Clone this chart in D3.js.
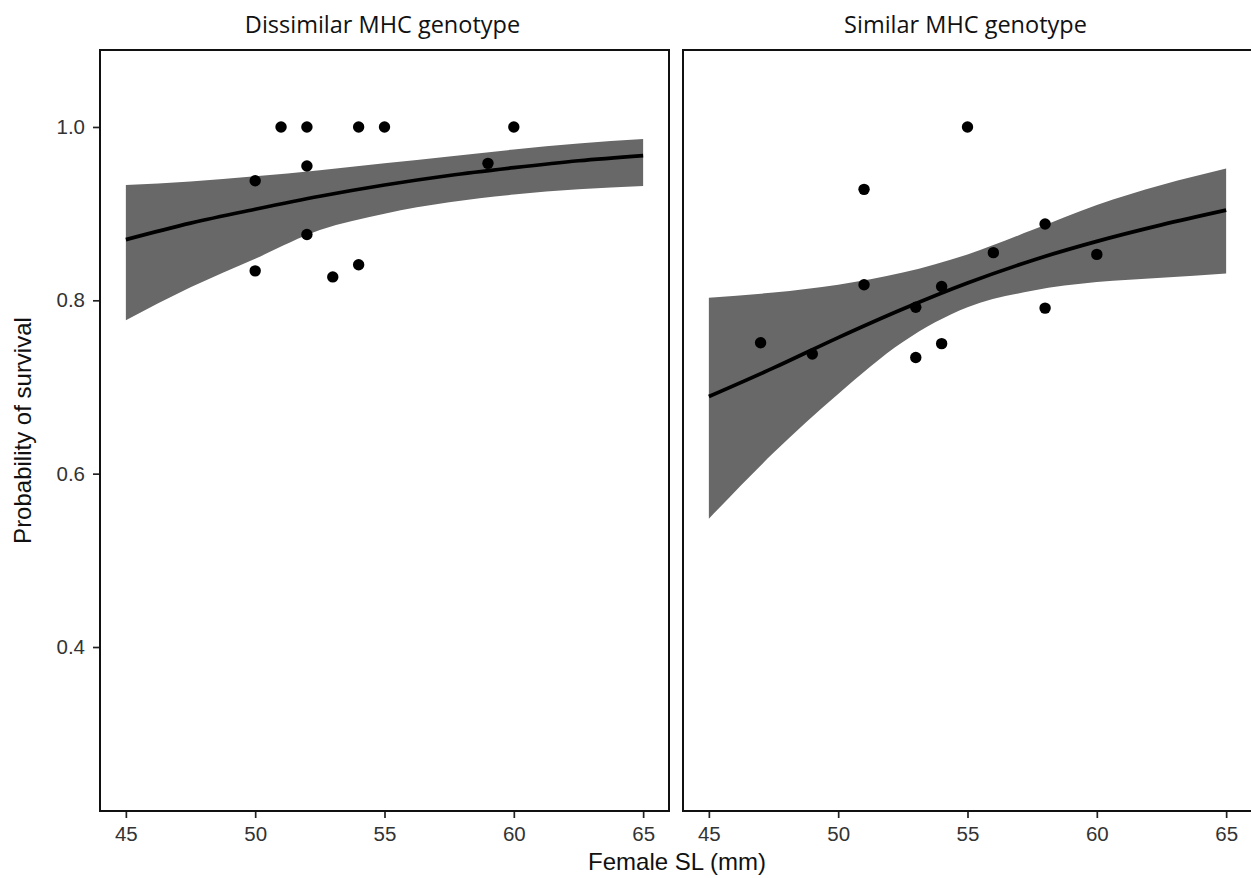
<!DOCTYPE html>
<html>
<head>
<meta charset="utf-8">
<script src="https://cdn.jsdelivr.net/npm/d3@7"></script>
<style>
  body { margin: 0; background: #fff; }
  svg { display: block; }
</style>
</head>
<body>
<script>
// valori
const panelTitles = ["Dissimilar MHC genotype", "Similar MHC genotype"];
const xTicks = [45, 50, 55, 60, 65];
const yTicks = [0.4, 0.6, 0.8, 1.0];

// punti osservati
const dissSL = [51, 52, 54, 55, 60, 50, 52, 59, 52, 50, 53, 54];
const dissSurv = [1.0, 1.0, 1.0, 1.0, 1.0, 0.938, 0.955, 0.958, 0.876, 0.834, 0.827, 0.841];
const simSL = [47, 49, 51, 51, 53, 53, 54, 54, 55, 56, 58, 58, 60];
const simSurv = [0.751, 0.738, 0.928, 0.818, 0.792, 0.734, 0.816, 0.750, 1.0, 0.855, 0.888, 0.791, 0.853];

// curva stimata e intervallo
const fitSL = [45, 47.5, 50, 52.5, 55, 57.5, 60, 62.5, 65];
const dissFit = [0.870, 0.889, 0.905, 0.920, 0.933, 0.944, 0.953, 0.961, 0.967];
const dissLower = [0.777, 0.815, 0.848, 0.881, 0.900, 0.913, 0.922, 0.928, 0.932];
const dissUpper = [0.933, 0.937, 0.943, 0.950, 0.958, 0.966, 0.974, 0.981, 0.986];
const simFit = [0.689, 0.722, 0.757, 0.790, 0.820, 0.846, 0.868, 0.887, 0.904];
const simLower = [0.548, 0.624, 0.692, 0.752, 0.792, 0.811, 0.821, 0.826, 0.831];
const simUpper = [0.803, 0.809, 0.818, 0.832, 0.853, 0.881, 0.910, 0.933, 0.952];

var width = 1251, height = 878;
var plotTop = 50, plotBottom = 811;
var panelW = 569, gap = 14, left0 = 100;

var svg = d3.select("body").append("svg")
  .attr("width", width)
  .attr("height", height);

var y = d3.scaleLinear().domain([0.2108, 1.0888]).range([plotBottom, plotTop]);

var panels = [
  { title: panelTitles[0], xs: dissSL, ys: dissSurv, fit: dissFit, lo: dissLower, hi: dissUpper },
  { title: panelTitles[1], xs: simSL, ys: simSurv, fit: simFit, lo: simLower, hi: simUpper }
];

panels.forEach(function (p, i) {
  var x0 = left0 + i * (panelW + gap);
  var x = d3.scaleLinear().domain([44, 66]).range([x0, x0 + panelW]);

  var g = svg.append("g");

  // banda di confidenza
  var band = fitSL.map((s, k) => ({ s: s, lo: p.lo[k], hi: p.hi[k] }));
  g.append("path")
    .datum(band)
    .attr("fill", "#686868")
    .attr("d", d3.area()
      .x(d => x(d.s))
      .y0(d => y(d.lo))
      .y1(d => y(d.hi))
      .curve(d3.curveMonotoneX));

  // curva
  var line = fitSL.map((s, k) => ({ s: s, v: p.fit[k] }));
  g.append("path")
    .datum(line)
    .attr("fill", "none")
    .attr("stroke", "#000")
    .attr("stroke-width", 3.7)
    .attr("d", d3.line()
      .x(d => x(d.s))
      .y(d => y(d.v))
      .curve(d3.curveMonotoneX));

  // punti
  g.selectAll("circle")
    .data(p.xs.map((s, k) => ({ s: s, v: p.ys[k] })))
    .enter().append("circle")
    .attr("cx", d => x(d.s))
    .attr("cy", d => y(d.v))
    .attr("r", 5.7)
    .attr("fill", "#000");

  // cornice (il secondo pannello esce dal bordo destro come nell'originale)
  g.append("rect")
    .attr("x", x0)
    .attr("y", plotTop)
    .attr("width", i === 0 ? panelW : panelW + 4)
    .attr("height", plotBottom - plotTop)
    .attr("fill", "none")
    .attr("stroke", "#111")
    .attr("stroke-width", 2);

  // asse x
  var xAxis = g.append("g")
    .attr("transform", `translate(0,${plotBottom + 1})`)
    .call(d3.axisBottom(x).tickValues(xTicks).tickSize(6).tickPadding(8));
  xAxis.select(".domain").remove();
  xAxis.selectAll(".tick line").attr("stroke", "#222").attr("stroke-width", 1.7);
  xAxis.selectAll("text")
    .attr("font-family", "Liberation Sans, Arial, sans-serif")
    .attr("font-size", 20.5)
    .attr("fill", "#333");

  // asse y solo nel primo pannello
  if (i === 0) {
    var yAxis = g.append("g")
      .attr("transform", `translate(${x0 - 1},0)`)
      .call(d3.axisLeft(y).tickValues(yTicks).tickSize(6).tickPadding(8).tickFormat(d3.format(".1f")));
    yAxis.select(".domain").remove();
    yAxis.selectAll(".tick line").attr("stroke", "#222").attr("stroke-width", 1.7);
    yAxis.selectAll("text")
      .attr("font-family", "Liberation Sans, Arial, sans-serif")
      .attr("font-size", 20.5)
      .attr("fill", "#333");
  }

  // titolo del pannello
  svg.append("text")
    .attr("x", x0 + panelW / 2 - 2)
    .attr("y", 33)
    .attr("text-anchor", "middle")
    .attr("font-family", "Open Sans, sans-serif")
    .attr("font-size", 23.5)
    .attr("fill", "#111")
    .text(p.title);
});

// titoli degli assi
svg.append("text")
  .attr("x", 677)
  .attr("y", 870)
  .attr("text-anchor", "middle")
  .attr("font-family", "Liberation Sans, Arial, sans-serif")
  .attr("font-size", 24)
  .attr("fill", "#111")
  .text("Female SL (mm)");

svg.append("text")
  .attr("transform", `translate(31,${(plotTop + plotBottom) / 2}) rotate(-90)`)
  .attr("text-anchor", "middle")
  .attr("font-family", "Liberation Sans, Arial, sans-serif")
  .attr("font-size", 24)
  .attr("fill", "#111")
  .text("Probability of survival");
</script>
</body>
</html>
